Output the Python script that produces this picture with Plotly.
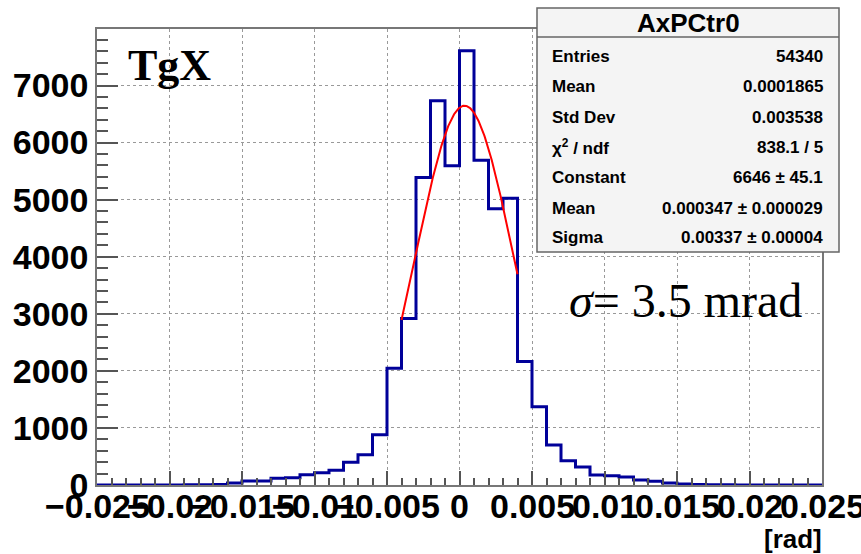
import numpy as np
import plotly.graph_objects as go

# ---------------- data ----------------
bin_low = -0.025
bin_width = 0.001
counts = [0, 0, 0, 1, 1, 2, 3, 5, 9, 35,
          68, 72, 120, 125, 181, 216, 257, 397, 531, 882,
          2046, 2916, 5388, 6732, 5593, 7609, 5692, 4839, 5026, 2162,
          1373, 701, 426, 316, 175, 163, 140, 88, 64, 35,
          18, 7, 4, 3, 2, 1, 1, 0, 0, 0]

fit_constant = 6646
fit_mean = 0.000347
fit_sigma = 0.00337
fit_range = (-0.004, 0.004)

x_tickvals = [-0.025, -0.02, -0.015, -0.01, -0.005, 0, 0.005, 0.01, 0.015, 0.02, 0.025]
x_ticktext = ["\u22120.025", "\u22120.02", "\u22120.015", "\u22120.01", "\u22120.005", "0",
              "0.005", "0.01", "0.015", "0.02", "0.025"]

stats_title = "AxPCtr0"
stats_labels = ["Entries", "Mean", "Std Dev", "\u03c7<sup>2</sup> / ndf", "Constant", "Mean", "Sigma"]
stats_values = ["54340", "0.0001865", "0.003538", "838.1 / 5", "6646 \u00b1 45.1",
                "0.000347 \u00b1 0.000029", "0.00337 \u00b1 0.00004"]

# ---------------- figure ----------------
W, H = 861, 554
L, R, T, B = 97, 39, 29, 69
pw, ph = W - L - R, H - T - B


def px(x):
    return (x - L) / pw


def py(y):
    return (H - B - y) / ph


edges = [bin_low + i * bin_width for i in range(len(counts) + 1)]
step_y = counts + [counts[-1]]

fig = go.Figure()
fig.add_trace(go.Scatter(x=edges, y=step_y, mode="lines", line_shape="hv",
                         line=dict(color="#000099", width=3), hoverinfo="skip",
                         showlegend=False))

xf = np.linspace(fit_range[0], fit_range[1], 200)
yf = fit_constant * np.exp(-0.5 * ((xf - fit_mean) / fit_sigma) ** 2)
fig.add_trace(go.Scatter(x=xf, y=yf, mode="lines", line=dict(color="#ff0000", width=2),
                         hoverinfo="skip", showlegend=False))

tick_font = dict(family="Liberation Sans", size=34, color="black", weight="bold")
axis_common = dict(showline=True, linecolor="#777777", linewidth=1.5, mirror=True,
                   showgrid=True, gridcolor="#999999", gridwidth=1, griddash="dot",
                   zeroline=False, ticks="inside", tickcolor="#555555")

fig.update_xaxes(range=[-0.025, 0.025], tickvals=x_tickvals, showticklabels=False,
                 ticklen=14, tickwidth=1.5,
                 minor=dict(ticks="inside", ticklen=7, tickcolor="#555555", dtick=0.001,
                            tick0=0, showgrid=False),
                 **axis_common)
fig.update_yaxes(range=[0, 7990], dtick=1000, tick0=0, ticklen=21, tickwidth=1.5,
                 tickfont=tick_font,
                 minor=dict(ticks="inside", ticklen=11, tickcolor="#555555", dtick=200,
                            tick0=0, showgrid=False),
                 **axis_common)

shapes = []
annotations = []

# x tick labels placed on the x axis scale
for v, t in zip(x_tickvals, x_ticktext):
    annotations.append(dict(xref="x", yref="paper", x=v, y=py(506), text=t,
                            showarrow=False, xanchor="center", yanchor="middle",
                            borderpad=0, font=tick_font))

# stats box
bx0, bx1, by0, by1 = 537, 839, 8, 252
shapes.append(dict(type="rect", xref="paper", yref="paper", layer="above",
                   x0=px(bx0), x1=px(bx1), y0=py(by1), y1=py(by0),
                   fillcolor="#f4f4f4", line=dict(color="#666666", width=1.5)))
shapes.append(dict(type="line", xref="paper", yref="paper", layer="above",
                   x0=px(bx0), x1=px(bx1), y0=py(37), y1=py(37),
                   line=dict(color="#666666", width=1.5)))
annotations.append(dict(xref="paper", yref="paper", x=px((bx0 + bx1) / 2), y=py(23),
                        text=stats_title, showarrow=False, xanchor="center", yanchor="middle",
                        font=dict(family="Liberation Sans", size=26, color="black", weight="bold")))
row_y = [56, 87, 117, 147, 178, 208, 237]
for lab, val, yy in zip(stats_labels, stats_values, row_y):
    annotations.append(dict(xref="paper", yref="paper", x=px(550), y=py(yy), text=lab,
                            showarrow=False, xanchor="left", yanchor="middle",
                            font=dict(family="Liberation Sans", size=17, color="black", weight="bold")))
    annotations.append(dict(xref="paper", yref="paper", x=px(825), y=py(yy), text=val,
                            showarrow=False, xanchor="right", yanchor="middle",
                            font=dict(family="Liberation Sans", size=17, color="black", weight="bold")))

annotations.append(dict(xref="paper", yref="paper", x=px(126), y=py(66), text="TgX",
                        showarrow=False, xanchor="left", yanchor="middle",
                        font=dict(family="Liberation Serif", size=44, color="black", weight="bold")))
annotations.append(dict(xref="paper", yref="paper", x=px(567), y=py(300),
                        text="<i>\u03c3</i>= 3.5 mrad",
                        showarrow=False, xanchor="left", yanchor="middle",
                        font=dict(family="Liberation Serif", size=48, color="black")))
annotations.append(dict(xref="paper", yref="paper", x=px(824), y=py(539), text="[rad]",
                        showarrow=False, xanchor="right", yanchor="middle",
                        font=dict(family="Liberation Sans", size=26, color="black", weight="bold")))

fig.update_layout(width=W, height=H, margin=dict(l=L, r=R, t=T, b=B, autoexpand=False),
                  paper_bgcolor="white", plot_bgcolor="white",
                  shapes=shapes, annotations=annotations, showlegend=False)

fig.write_html("out.html")
